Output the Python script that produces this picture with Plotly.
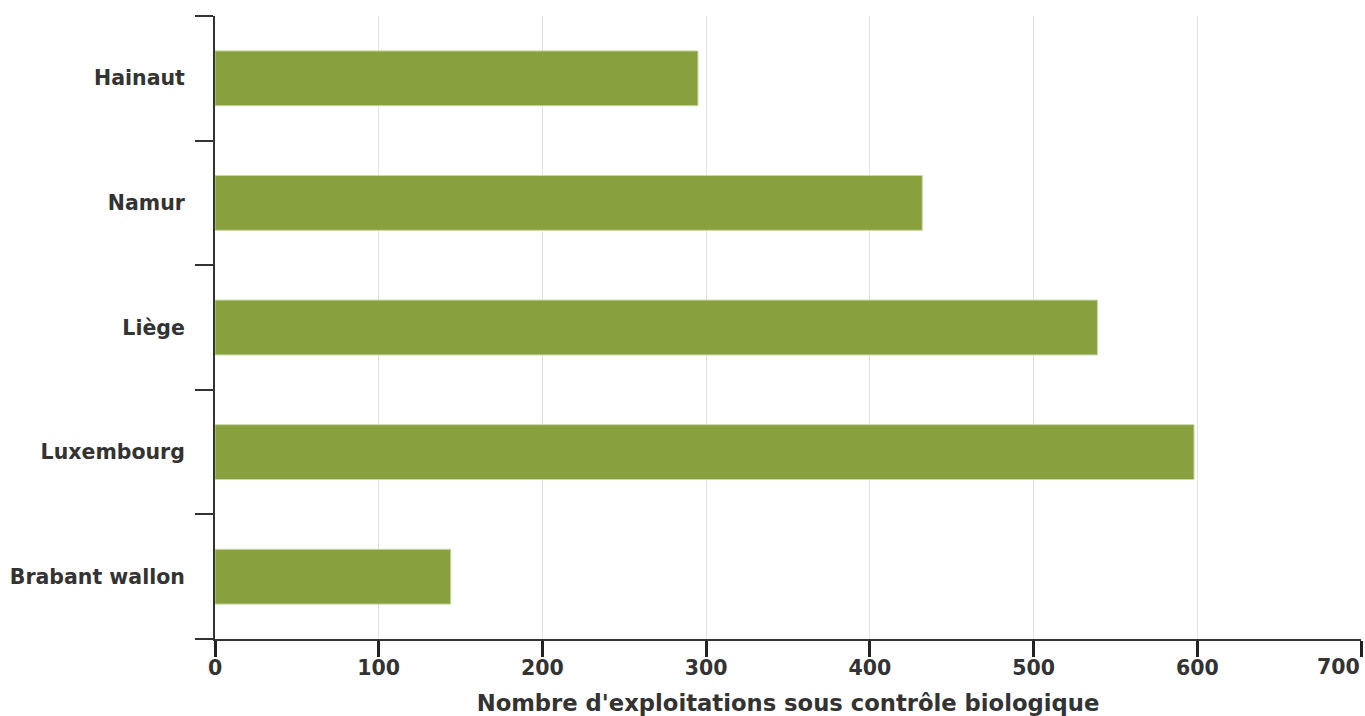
import plotly.graph_objects as go

# Données
provinces = ["Hainaut", "Namur", "Liège", "Luxembourg", "Brabant wallon"]
exploitations = [295, 432, 539, 598, 144]
x_max = 700

BAR_COLOR = "#88a03e"
AXIS_COLOR = "#333333"
FONT = "DejaVu Sans"

fig = go.Figure()

fig.add_trace(go.Bar(
    y=provinces,
    x=exploitations,
    orientation="h",
    marker=dict(color=BAR_COLOR, line=dict(color="#c9d6a6", width=1)),
    hovertemplate="<b>%{y}</b><br>%{x}<extra></extra>",
))

fig.update_layout(
    width=1365,
    height=716,
    margin=dict(l=215, r=4, t=16, b=77),
    plot_bgcolor="white",
    paper_bgcolor="white",
    bargap=0.56,
    showlegend=False,
    font=dict(family=FONT, color=AXIS_COLOR),
)

fig.update_xaxes(
    range=[0, x_max],
    dtick=100,
    automargin=False,
    showgrid=True,
    gridcolor="#e3e3e3",
    gridwidth=1,
    showline=True,
    linecolor=AXIS_COLOR,
    linewidth=2,
    ticks="outside",
    ticklen=16,
    tickwidth=3,
    tickcolor="#222222",
    ticklabelstandoff=-7,
    tickfont=dict(family=FONT, size=20.5, color=AXIS_COLOR, weight="bold"),
    zeroline=False,
    title=dict(
        text="Nombre d'exploitations sous contrôle biologique",
        font=dict(family=FONT, size=22.7, color=AXIS_COLOR, weight="bold"),
        standoff=19,
    ),
)

fig.update_yaxes(
    categoryorder="array",
    categoryarray=provinces[::-1],
    automargin=False,
    showgrid=False,
    showline=True,
    linecolor=AXIS_COLOR,
    linewidth=2,
    ticks="outside",
    tickson="boundaries",
    ticklen=18,
    tickwidth=2,
    tickcolor=AXIS_COLOR,
    ticklabelstandoff=24,
    tickfont=dict(family=FONT, size=20.5, color=AXIS_COLOR, weight="bold"),
    zeroline=False,
)

# le dernier libellé (700) est calé à droite pour rester dans le cadre
fig.add_annotation(
    x=x_max, y=0, xref="x", yref="paper",
    text=str(x_max), showarrow=False,
    xanchor="right", yanchor="top", yshift=-14, xshift=1,
    font=dict(family=FONT, size=20.5, color=AXIS_COLOR, weight="bold"),
)

fig.write_html(
    "out.html",
    config={"displayModeBar": False},
    post_script="document.body.style.margin='0';",
)
